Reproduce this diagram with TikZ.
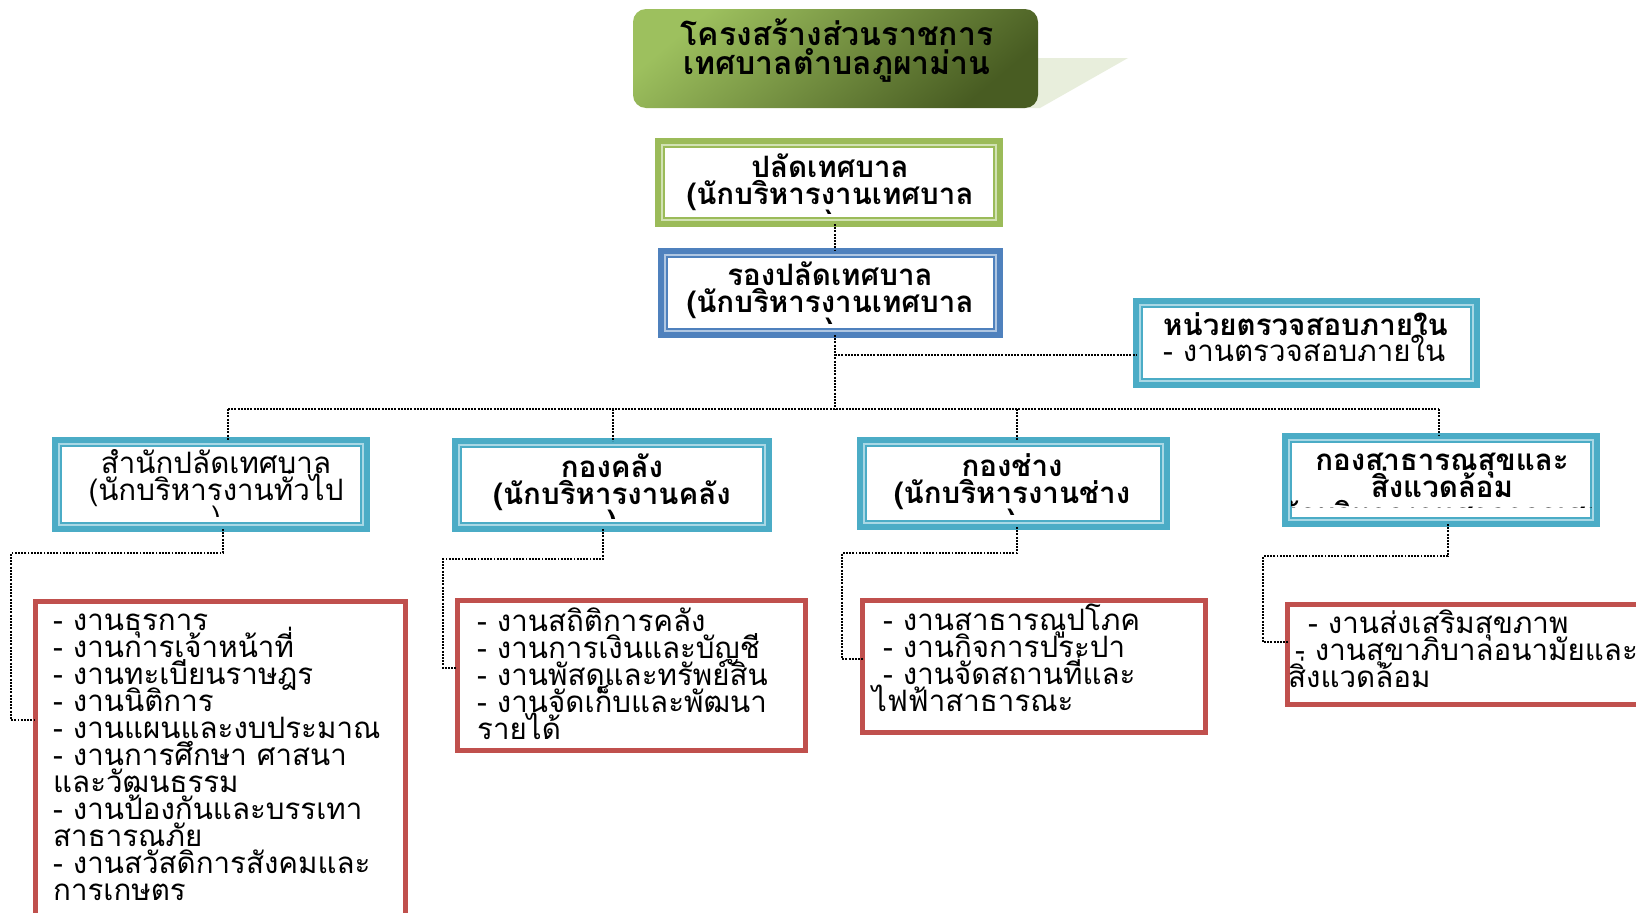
\documentclass[tikz,border=0pt]{standalone}
\usepackage{fontspec}
\newfontfamily\thai[Script=Thai]{Loma}
\definecolor{grn}{HTML}{9BBB59}
\definecolor{grnL}{HTML}{D2E2B4}
\definecolor{blu}{HTML}{4F81BD}
\definecolor{bluL}{HTML}{B0C7E2}
\definecolor{aqua}{HTML}{4BACC6}
\definecolor{aquaL}{HTML}{A9D8E5}
\definecolor{redb}{HTML}{C0504D}
\definecolor{tA}{HTML}{9DC05E}
\definecolor{tB}{HTML}{485C22}
\definecolor{tailc}{HTML}{E8EEDC}
\newcommand{\orgbox}[7]{%
  \node[frame=#2, minimum width={#6-#4-6}, minimum height={#7-#5-6}] (#1) at ({(#4+#6)/2},{(#5+#7)/2}) {};
  \draw[#3, line width=2pt] ({#4+7},{#5+7}) rectangle ({#6-7},{#7-7});
  \draw[#2, line width=1.2pt] ({#4+9},{#5+9}) rectangle ({#6-9},{#7-9});
}
\newcommand{\fixskip}{\lineskiplimit=-100pt\lineskip=0pt}
\begin{document}
\begin{tikzpicture}[x=1pt,y=-1pt,
  frame/.style={draw=#1, line width=6pt, inner sep=0pt, outer sep=0pt},
  redframe/.style={draw=redb, line width=5pt, inner sep=0pt, outer sep=0pt},
  conn/.style={line width=1.9pt, dash pattern=on 1.9pt off 1.3pt, black},
  hdr/.style={font={\thai\bfseries\fontsize{29.5}{27}\selectfont\fixskip}, align=center, inner sep=0pt, anchor=base},
  hdrreg/.style={font={\thai\fontsize{29.5}{27}\selectfont\fixskip}, align=center, inner sep=0pt, anchor=base},
  lst/.style={font={\thai\fontsize{29.5}{27}\selectfont\fixskip}, align=left, inner sep=0pt, anchor=base west},
  ttl/.style={font={\thai\bfseries\fontsize{32}{29}\selectfont\fixskip}, align=center, inner sep=0pt, anchor=base}]
\clip (0,0) rectangle (1636,913);
\fill[white] (0,0) rectangle (1636,913);
% title
\fill[tailc] (1000,58) -- (1128,58) -- (1040,108) -- (1000,108) -- cycle;
\node[minimum width=405pt, minimum height=99pt, inner sep=0pt, rounded corners=13pt,
      top color=tA, bottom color=tB, shading angle=40] (title) at (835.5,58.5) {};
\node[ttl] (titletxt) at (837,74) {โครงสร้างส่วนราชการ\\เทศบาลตำบลภูผาม่าน};
% header boxes
\orgbox{palad}{grn}{grnL}{655}{138}{1003}{227}
\orgbox{rong}{blu}{bluL}{658}{248}{1003}{338}
\orgbox{audit}{aqua}{aquaL}{1133}{298}{1480}{388}
\orgbox{b1}{aqua}{aquaL}{52}{437}{370}{532}
\orgbox{b2}{aqua}{aquaL}{452}{438}{772}{532}
\orgbox{b3}{aqua}{aquaL}{857}{437}{1170}{530}
\orgbox{b4}{aqua}{aquaL}{1282}{433}{1600}{527}
\begin{scope}\clip (664,147) rectangle (994,213);
\node[hdr] (paladt) at (830,231) {ปลัดเทศบาล\\(นักบริหารงานเทศบาล\\)};
\end{scope}
\begin{scope}\clip (667,257) rectangle (994,323);
\node[hdr] (rongt) at (830,339) {รองปลัดเทศบาล\\(นักบริหารงานเทศบาล\\)};
\end{scope}
\node[font={\thai\fontsize{29.5}{26.5}\selectfont\fixskip}, align=left, inner sep=0pt, anchor=base west] (auditt) at (1163,361.5) {{\bfseries หน่วยตรวจสอบภายใน}\\- งานตรวจสอบภายใน};
\begin{scope}\clip (61,446) rectangle (361,516);
\node[hdrreg] (b1t) at (216,527) {สำนักปลัดเทศบาล\\(นักบริหารงานทั่วไป\\)};
\end{scope}
\begin{scope}\clip (461,447) rectangle (763,518);
\node[hdr] (b2t) at (612,531) {กองคลัง\\(นักบริหารงานคลัง\\)};
\end{scope}
\begin{scope}\clip (866,446) rectangle (1161,514);
\node[hdr] (b3t) at (1012,530) {กองช่าง\\(นักบริหารงานช่าง\\)};
\end{scope}
\begin{scope}\clip (1291,442) rectangle (1591,507);
\node[hdr] (b4t) at (1442,524) {กองสาธารณสุขและ\\สิ่งแวดล้อม\\(นักบริหารงานสาธารณสุข)};
\end{scope}
% list boxes
\node[redframe, minimum width=370pt, minimum height=356pt] (l1) at (220.5,779.5) {};
\node[redframe, minimum width=348pt, minimum height=150pt] (l2) at (631.5,675.5) {};
\node[redframe, minimum width=343pt, minimum height=132pt] (l3) at (1034,666.5) {};
\node[redframe, minimum width=410pt, minimum height=100pt] (l4) at (1492.5,654.5) {};
\node[lst] (l1t) at (53,900) {- งานธุรการ\\- งานการเจ้าหน้าที่\\- งานทะเบียนราษฎร\\- งานนิติการ\\- งานแผนและงบประมาณ\\- งานการศึกษา ศาสนา\\และวัฒนธรรม\\- งานป้องกันและบรรเทา\\สาธารณภัย\\- งานสวัสดิการสังคมและ\\การเกษตร};
\node[lst] (l2t) at (477,739) {- งานสถิติการคลัง\\- งานการเงินและบัญชี\\- งานพัสดุและทรัพย์สิน\\- งานจัดเก็บและพัฒนา\\รายได้};
\node[lst] (l3t) at (872,711) {\hspace*{11pt}- งานสาธารณูปโภค\\\hspace*{11pt}- งานกิจการประปา\\\hspace*{11pt}- งานจัดสถานที่และ\\ไฟฟ้าสาธารณะ};
\node[lst] (l4t) at (1288,687) {\hspace*{20pt}- งานส่งเสริมสุขภาพ\\\hspace*{7pt}- งานสุขาภิบาลอนามัยและ\\สิ่งแวดล้อม};
% connectors
\coordinate (spine) at (835,409);
\coordinate (auditj) at (835,355);
\coordinate (busL) at (228,409);
\coordinate (busR) at (1439,409);
\coordinate (d2) at (613,409);
\coordinate (d3) at (1017,409);
\draw[conn] (palad.south -| spine) -- (rong.north -| spine);
\draw[conn] (rong.south -| spine) -- (spine);
\draw[conn] (auditj) -- (auditj -| audit.west);
\draw[conn] (busL) -- (busR);
\draw[conn] (busL) -- (busL |- b1.north);
\draw[conn] (d2) -- (d2 |- b2.north);
\draw[conn] (d3) -- (d3 |- b3.north);
\draw[conn] (busR) -- (busR |- b4.north);
\coordinate (e1a) at (223,553); \coordinate (e1b) at (11,553); \coordinate (e1c) at (11,720);
\draw[conn] (b1.south -| e1a) -- (e1a) -- (e1b) -- (e1c) -- (e1c -| l1.west);
\coordinate (e2a) at (603,559); \coordinate (e2b) at (443,559); \coordinate (e2c) at (443,668);
\draw[conn] (b2.south -| e2a) -- (e2a) -- (e2b) -- (e2c) -- (e2c -| l2.west);
\coordinate (e3a) at (1017,553); \coordinate (e3b) at (842,553); \coordinate (e3c) at (842,659);
\draw[conn] (b3.south -| e3a) -- (e3a) -- (e3b) -- (e3c) -- (e3c -| l3.west);
\coordinate (e4a) at (1448,556); \coordinate (e4b) at (1263,556); \coordinate (e4c) at (1263,642);
\draw[conn] (b4.south -| e4a) -- (e4a) -- (e4b) -- (e4c) -- (e4c -| l4.west);
\end{tikzpicture}
\end{document}
